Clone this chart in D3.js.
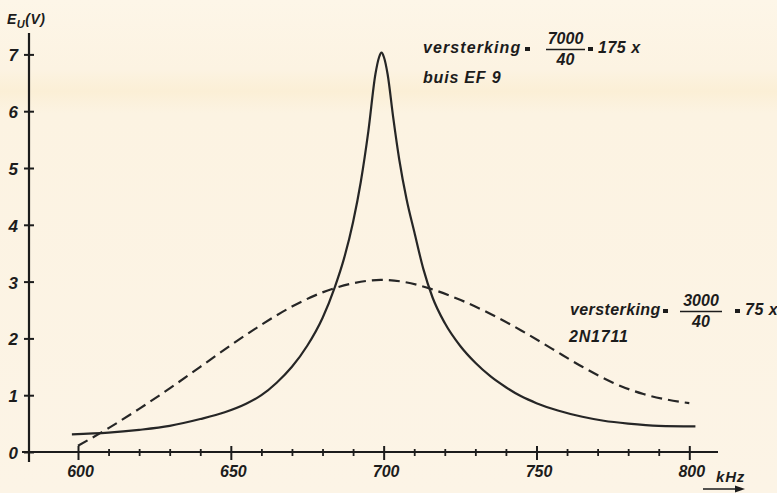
<!DOCTYPE html>
<html>
<head>
<meta charset="utf-8">
<script src="https://cdn.jsdelivr.net/npm/d3@7"></script>
<style>
  body { margin: 0; background: #fcf4e4; }
  svg { display: block; }
  text { font-family: "Liberation Sans", Arial, sans-serif; font-style: italic; font-weight: bold; fill: #1c1c1c; }
</style>
</head>
<body>
<svg id="chart" width="777" height="493"></svg>
<script>
// buis EF 9 (solid curve): frequency in kHz, voltage in V
const tubeFreq = [598, 610, 620, 630, 640, 648, 655, 660, 665, 670, 675, 680, 684, 687, 690, 692.5, 695, 697.3, 698.5, 699.3, 700.1, 701.3, 703.1, 705.1, 707.5, 710, 713, 716, 720, 725, 730, 735, 740, 745, 750, 757, 765, 772, 780, 790, 802];
const tubeVolt = [0.31, 0.34, 0.39, 0.46, 0.58, 0.70, 0.85, 1.00, 1.22, 1.50, 1.87, 2.36, 2.90, 3.40, 4.05, 4.75, 5.65, 6.65, 6.95, 7.03, 6.95, 6.65, 5.90, 5.15, 4.45, 3.88, 3.22, 2.72, 2.27, 1.87, 1.57, 1.33, 1.14, 0.98, 0.86, 0.73, 0.62, 0.55, 0.50, 0.46, 0.45];

// 2N1711 (dashed curve)
const transFreq = [600, 610, 620, 630, 640, 650, 660, 670, 680, 690, 699, 706, 715, 725, 735, 745, 755, 765, 775, 785, 792, 800];
const transVolt = [0.11, 0.42, 0.76, 1.12, 1.50, 1.88, 2.24, 2.56, 2.81, 2.97, 3.03, 3.00, 2.88, 2.68, 2.43, 2.14, 1.82, 1.50, 1.22, 1.02, 0.93, 0.86];

const xMajor = [600, 650, 700, 750, 800];
const xMinor = [610, 620, 630, 640, 660, 670, 680, 690, 710, 720, 730, 740, 760, 770, 780, 790];
const yTicks = [0, 1, 2, 3, 4, 5, 6, 7];

const svg = d3.select("#chart");
const W = 777, H = 493;

// paper background with a faint yellow band
const defs = svg.append("defs");
const bg = defs.append("linearGradient").attr("id", "paper").attr("x1", 0).attr("x2", 0).attr("y1", 0).attr("y2", 1);
[[0, "#fdf6e8"], [0.14, "#fcf3e2"], [0.185, "#fbefd6"], [0.23, "#fcf3e2"], [1, "#fcf4e6"]].forEach(s =>
  bg.append("stop").attr("offset", s[0]).attr("stop-color", s[1]));
svg.append("rect").attr("width", W).attr("height", H).attr("fill", "url(#paper)");

const x = d3.scaleLinear().domain([600, 800]).range([78, 689.3]);
const y = d3.scaleLinear().domain([0, 7]).range([452, 54.4]);
const axisX = 29;

// x axis line
svg.append("line").attr("x1", 22).attr("x2", 718).attr("y1", y(0)).attr("y2", y(0))
  .attr("stroke", "#1c1c1c").attr("stroke-width", 2);
// y axis line
svg.append("line").attr("x1", axisX).attr("x2", axisX).attr("y1", 33).attr("y2", 462)
  .attr("stroke", "#1c1c1c").attr("stroke-width", 2.2);

// major x ticks
const gx = svg.append("g").attr("transform", `translate(0,${y(0)})`)
  .call(d3.axisBottom(x).tickValues(xMajor).tickSize(0).tickPadding(14));
gx.select(".domain").remove();
gx.selectAll(".tick line").attr("y1", -6).attr("y2", 8).attr("stroke", "#1c1c1c").attr("stroke-width", 2);
gx.selectAll(".tick text").style("font-size", "16px").attr("dx", 2).attr("fill", "#1c1c1c");

// minor x ticks
const gm = svg.append("g").attr("transform", `translate(0,${y(0)})`)
  .call(d3.axisBottom(x).tickValues(xMinor).tickSize(0).tickFormat(""));
gm.select(".domain").remove();
gm.selectAll(".tick line").attr("y1", -3).attr("y2", 4).attr("stroke", "#1c1c1c").attr("stroke-width", 1.8);

// y ticks
const gy = svg.append("g").attr("transform", `translate(${axisX},0)`)
  .call(d3.axisLeft(y).tickValues(yTicks).tickFormat(d3.format("d")).tickSize(0).tickPadding(11));
gy.select(".domain").remove();
gy.selectAll(".tick line").attr("x1", -5).attr("x2", 5).attr("stroke", "#1c1c1c").attr("stroke-width", 2);
gy.selectAll(".tick text").style("font-size", "17px").attr("dy", "0.38em").attr("fill", "#1c1c1c");

// curves
const line = d3.line().x(d => x(d[0])).y(d => y(d[1])).curve(d3.curveMonotoneX);
svg.append("path").datum(tubeFreq.map((f, i) => [f, tubeVolt[i]]))
  .attr("d", line).attr("fill", "none").attr("stroke", "#262626").attr("stroke-width", 2.2);
svg.append("path").datum(transFreq.map((f, i) => [f, transVolt[i]]))
  .attr("d", line).attr("fill", "none").attr("stroke", "#262626").attr("stroke-width", 2.2)
  .attr("stroke-dasharray", "11,6");

// y axis title
const yt = svg.append("text").attr("x", 7).attr("y", 24).style("font-size", "14px").style("letter-spacing", "0.5px");
yt.append("tspan").text("E");
yt.append("tspan").attr("dy", 4).style("font-size", "11px").text("U");
yt.append("tspan").attr("dy", -4).text("(V)");

// x axis unit + arrow
svg.append("text").attr("x", 716).attr("y", 482).style("font-size", "15px").style("letter-spacing", "0.8px").text("kHz");
svg.append("line").attr("x1", 703).attr("x2", 737).attr("y1", 489).attr("y2", 489)
  .attr("stroke", "#1c1c1c").attr("stroke-width", 1.6);
svg.append("path").attr("d", "M735,485.5 L745,489 L735,492.5 Z").attr("fill", "#1c1c1c");

// annotation helper: "versterking = num/den = result"
function annotate(x0, base, spacing, num, den, eqX, fracX, fracW, resX, sub) {
  svg.append("text").attr("x", x0).attr("y", base).style("font-size", "16px")
    .style("letter-spacing", spacing + "px").text("versterking");
  svg.append("rect").attr("x", eqX).attr("y", base - 6).attr("width", 5).attr("height", 4).attr("fill", "#1c1c1c");
  svg.append("text").attr("x", fracX + fracW / 2).attr("y", base - 9).attr("text-anchor", "middle")
    .style("font-size", "16px").text(num);
  svg.append("line").attr("x1", fracX).attr("x2", fracX + fracW).attr("y1", base - 3.5).attr("y2", base - 3.5)
    .attr("stroke", "#1c1c1c").attr("stroke-width", 1.6);
  svg.append("text").attr("x", fracX + fracW / 2).attr("y", base + 12).attr("text-anchor", "middle")
    .style("font-size", "16px").text(den);
  svg.append("rect").attr("x", resX).attr("y", base - 6).attr("width", 5).attr("height", 4).attr("fill", "#1c1c1c");
  svg.append("text").attr("x", resX + 10).attr("y", base).style("font-size", "16px")
    .style("letter-spacing", "0.5px").text(sub);
}
annotate(423, 53, 1.1, "7000", "40", 525, 546, 39, 588, "175 x");
svg.append("text").attr("x", 423).attr("y", 83).style("font-size", "16px").style("letter-spacing", "0.8px").text("buis EF 9");

annotate(570, 315, 0.4, "3000", "40", 663, 680, 42, 735, "75 x");
svg.append("text").attr("x", 569).attr("y", 342).style("font-size", "16px").style("letter-spacing", "0.8px").text("2N1711");
</script>
</body>
</html>
